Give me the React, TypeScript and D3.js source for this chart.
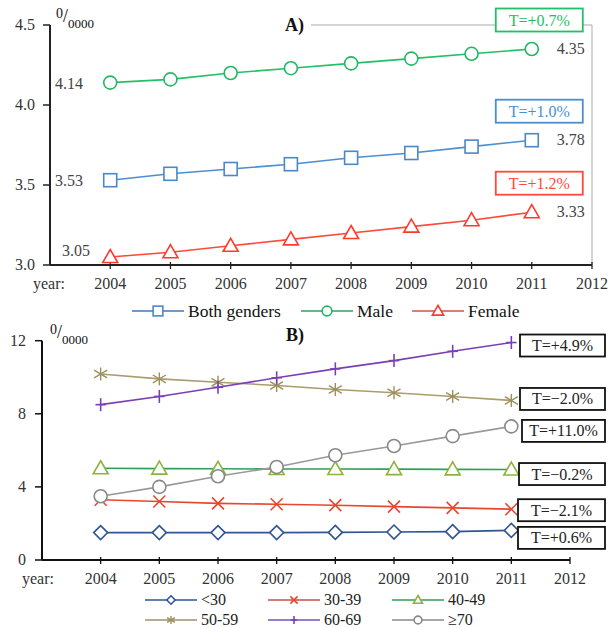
import React, { useEffect, useRef } from "react";
import * as d3 from "d3";

const years = [2004, 2005, 2006, 2007, 2008, 2009, 2010, 2011];
const axisYears = [2004, 2005, 2006, 2007, 2008, 2009, 2010, 2011, 2012];

// Panel A
const bothValues = [3.53, 3.57, 3.6, 3.63, 3.67, 3.7, 3.74, 3.78];
const maleValues = [4.14, 4.16, 4.2, 4.23, 4.26, 4.29, 4.32, 4.35];
const femaleValues = [3.05, 3.08, 3.12, 3.16, 3.2, 3.24, 3.28, 3.33];
const topNames = ["Both genders", "Male", "Female"];
const topTrends = ["T=+1.0%", "T=+0.7%", "T=+1.2%"];
const topTicks = [3.0, 3.5, 4.0, 4.5];

// Panel B
const ageNames = ["<30", "30-39", "40-49", "50-59", "60-69", "\u226570"];
const under30 = [1.5, 1.5, 1.5, 1.5, 1.51, 1.53, 1.55, 1.62];
const age30 = [3.3, 3.2, 3.1, 3.05, 3.0, 2.92, 2.85, 2.78];
const age40 = [5.02, 5.0, 4.99, 4.98, 4.98, 4.97, 4.96, 4.95];
const age50 = [10.18, 9.91, 9.73, 9.55, 9.33, 9.15, 8.95, 8.73];
const age60 = [8.5, 8.95, 9.45, 9.97, 10.46, 10.91, 11.42, 11.9];
const age70 = [3.49, 4.0, 4.58, 5.09, 5.73, 6.24, 6.78, 7.31];
const ageTrends = ["T=+0.6%", "T=\u22122.1%", "T=\u22120.2%", "T=\u22122.0%", "T=+4.9%", "T=+11.0%"];
const bottomTicks = [0, 4, 8, 12];

const FONT = "Liberation Serif, Tinos, Times New Roman, DejaVu Serif, Noto Serif, serif";

type Shape = "square" | "circle" | "triangle" | "diamond" | "x" | "star" | "plus";

function drawMarker(g: any, shape: Shape, x: number, y: number, color: string, s = 1) {
  const sw = 1.6;
  if (shape === "square") {
    g.append("rect").attr("x", x - 6.5 * s).attr("y", y - 6.5 * s).attr("width", 13 * s).attr("height", 13 * s)
      .attr("fill", "#fff").attr("stroke", color).attr("stroke-width", sw);
  } else if (shape === "circle") {
    g.append("circle").attr("cx", x).attr("cy", y).attr("r", 6.5 * s).attr("fill", "#fff").attr("stroke", color).attr("stroke-width", sw);
  } else if (shape === "triangle") {
    const p = [[0, -7.5], [7.5, 5.5], [-7.5, 5.5]].map(([a, b]) => `${x + a * s},${y + b * s}`).join(" ");
    g.append("polygon").attr("points", p).attr("fill", "#fff").attr("stroke", color).attr("stroke-width", sw);
  } else if (shape === "diamond") {
    const p = [[0, -7], [7, 0], [0, 7], [-7, 0]].map(([a, b]) => `${x + a * s},${y + b * s}`).join(" ");
    g.append("polygon").attr("points", p).attr("fill", "#fff").attr("stroke", color).attr("stroke-width", sw);
  } else if (shape === "x") {
    const r = 6 * s;
    g.append("line").attr("x1", x - r).attr("y1", y - r).attr("x2", x + r).attr("y2", y + r).attr("stroke", color).attr("stroke-width", sw);
    g.append("line").attr("x1", x - r).attr("y1", y + r).attr("x2", x + r).attr("y2", y - r).attr("stroke", color).attr("stroke-width", sw);
  } else if (shape === "star") {
    const r = 6.5 * s;
    g.append("line").attr("x1", x).attr("y1", y - r).attr("x2", x).attr("y2", y + r).attr("stroke", color).attr("stroke-width", 1.4);
    g.append("line").attr("x1", x - r).attr("y1", y - r * 0.6).attr("x2", x + r).attr("y2", y + r * 0.6).attr("stroke", color).attr("stroke-width", 1.4);
    g.append("line").attr("x1", x - r).attr("y1", y + r * 0.6).attr("x2", x + r).attr("y2", y - r * 0.6).attr("stroke", color).attr("stroke-width", 1.4);
  } else if (shape === "plus") {
    const r = 6.5 * s;
    g.append("line").attr("x1", x).attr("y1", y - r).attr("x2", x).attr("y2", y + r).attr("stroke", color).attr("stroke-width", sw);
    g.append("line").attr("x1", x - r * 0.8).attr("y1", y).attr("x2", x + r * 0.8).attr("y2", y).attr("stroke", color).attr("stroke-width", sw);
  }
}

function permilleLabel(svg: any, x: number, y: number) {
  const t = svg.append("text").attr("x", x).attr("y", y).attr("font-family", FONT).attr("fill", "#111");
  t.append("tspan").attr("font-size", 14).attr("dy", 0).text("0");
  t.append("tspan").attr("font-size", 18).attr("dy", 4).text("/");
  t.append("tspan").attr("font-size", 13).attr("dy", 6).text("0000");
}

export default function App() {
  const ref = useRef<SVGSVGElement>(null);

  useEffect(() => {
    const svg = d3.select(ref.current);
    svg.selectAll("*").remove();

    // ================= Panel A =================
    const xA = d3.scaleLinear().domain([2003, 2012]).range([50, 592]);
    const yA = d3.scaleLinear().domain([3.0, 4.5]).range([265, 25]);
    const gA = svg.append("g");

    gA.append("line").attr("x1", 311).attr("x2", xA(2012)).attr("y1", yA(4.5)).attr("y2", yA(4.5)).attr("stroke", "#aaa").attr("stroke-width", 1);
    gA.append("line").attr("x1", xA(2012)).attr("x2", xA(2012)).attr("y1", yA(4.5)).attr("y2", yA(3.0)).attr("stroke", "#aaa").attr("stroke-width", 1);

    gA.append("line").attr("x1", xA(2003)).attr("x2", xA(2003)).attr("y1", yA(4.5)).attr("y2", yA(3.0)).attr("stroke", "#222").attr("stroke-width", 2);
    gA.append("line").attr("x1", xA(2003)).attr("x2", xA(2012)).attr("y1", yA(3.0)).attr("y2", yA(3.0)).attr("stroke", "#222").attr("stroke-width", 2);
    topTicks.forEach((v) => {
      gA.append("line").attr("x1", xA(2003) - 7).attr("x2", xA(2003)).attr("y1", yA(v)).attr("y2", yA(v)).attr("stroke", "#222").attr("stroke-width", 1.5);
      gA.append("text").attr("x", xA(2003) - 15).attr("y", yA(v) + 5).attr("text-anchor", "end").attr("font-family", FONT)
        .attr("font-size", 16).attr("fill", "#333").text(v.toFixed(1));
    });
    axisYears.forEach((yr) => {
      gA.append("line").attr("x1", xA(yr)).attr("x2", xA(yr)).attr("y1", yA(3.0) - 3).attr("y2", yA(3.0) + 4).attr("stroke", "#222").attr("stroke-width", 1.3);
      gA.append("text").attr("x", xA(yr)).attr("y", 289).attr("text-anchor", "middle").attr("font-family", FONT)
        .attr("font-size", 16).attr("fill", "#333").text(String(yr));
    });
    gA.append("text").attr("x", 33).attr("y", 289).attr("font-family", FONT).attr("font-size", 16).attr("fill", "#333").text("year:");

    permilleLabel(gA, 56, 18);
    gA.append("text").attr("x", 285).attr("y", 31).attr("font-family", FONT).attr("font-size", 18).attr("font-weight", "bold").attr("fill", "#111").text("A)");

    const topSeries = [
      { name: topNames[0], values: bothValues, color: "#4a8fd0", mcolor: "#4a88c8", shape: "square" as Shape, trend: topTrends[0] },
      { name: topNames[1], values: maleValues, color: "#22bf68", mcolor: "#22b862", shape: "circle" as Shape, trend: topTrends[1] },
      { name: topNames[2], values: femaleValues, color: "#ff4a3a", mcolor: "#ff3a2a", shape: "triangle" as Shape, trend: topTrends[2] },
    ];
    const lineA = d3.line<number>().x((_, i) => xA(years[i])).y((d) => yA(d));
    const firstLabelDy = [6, 6, -1];
    const firstLabelDx = [5, 5, 12];
    topSeries.forEach((s, si) => {
      gA.append("path").attr("d", lineA(s.values)).attr("fill", "none").attr("stroke", s.color).attr("stroke-width", 1.6);
      s.values.forEach((v, i) => drawMarker(gA, s.shape, xA(years[i]), yA(v), s.mcolor));
      const first = s.values[0];
      const last = s.values[s.values.length - 1];
      gA.append("text").attr("x", xA(2003) + firstLabelDx[si]).attr("y", yA(first) + firstLabelDy[si]).attr("font-family", FONT)
        .attr("font-size", 16).attr("fill", "#444").text(first.toFixed(2));
      gA.append("text").attr("x", xA(2011) + 25).attr("y", yA(last) + 5).attr("font-family", FONT)
        .attr("font-size", 16).attr("fill", "#444").text(last.toFixed(2));
      const by = yA(last) - 29;
      gA.append("rect").attr("x", xA(2011) - 36).attr("y", by - 11.5).attr("width", 87).attr("height", 23)
        .attr("fill", "#fff").attr("stroke", s.color).attr("stroke-width", 1.8);
      gA.append("text").attr("x", xA(2011) + 7.5).attr("y", by + 5.5).attr("text-anchor", "middle").attr("font-family", FONT)
        .attr("font-size", 16).attr("fill", s.color).text(s.trend);
    });

    const legA = [
      { x: 132, lc: "#3d7ab5" },
      { x: 301, lc: "#3a9a66" },
      { x: 412, lc: "#cc5544" },
    ];
    topSeries.forEach((s, i) => {
      const lx = legA[i].x;
      const ly = 311;
      gA.append("line").attr("x1", lx).attr("x2", lx + 52).attr("y1", ly).attr("y2", ly).attr("stroke", legA[i].lc).attr("stroke-width", 1.6);
      drawMarker(gA, s.shape, lx + 26, ly, s.mcolor, 0.75);
      gA.append("text").attr("x", lx + 56).attr("y", ly + 6).attr("font-family", FONT).attr("font-size", 17.5).attr("fill", "#111").text(s.name);
    });

    // ================= Panel B =================
    const xB = d3.scaleLinear().domain([2003, 2012]).range([42, 570]);
    const yB = d3.scaleLinear().domain([0, 12]).range([560, 340.7]);
    const gB = svg.append("g");

    gB.append("line").attr("x1", xB(2003)).attr("x2", xB(2003)).attr("y1", yB(12)).attr("y2", yB(0)).attr("stroke", "#111").attr("stroke-width", 2);
    gB.append("line").attr("x1", xB(2003)).attr("x2", xB(2012)).attr("y1", yB(0)).attr("y2", yB(0)).attr("stroke", "#111").attr("stroke-width", 2);
    bottomTicks.forEach((v) => {
      gB.append("line").attr("x1", xB(2003) - 7).attr("x2", xB(2003)).attr("y1", yB(v)).attr("y2", yB(v)).attr("stroke", "#111").attr("stroke-width", 1.5);
      gB.append("text").attr("x", xB(2003) - 16).attr("y", yB(v) + 5).attr("text-anchor", "end").attr("font-family", FONT)
        .attr("font-size", 16).attr("fill", "#333").text(String(v));
    });
    axisYears.forEach((yr) => {
      gB.append("line").attr("x1", xB(yr)).attr("x2", xB(yr)).attr("y1", yB(0) - 3).attr("y2", yB(0) + 4).attr("stroke", "#111").attr("stroke-width", 1.3);
      gB.append("text").attr("x", xB(yr)).attr("y", 584).attr("text-anchor", "middle").attr("font-family", FONT)
        .attr("font-size", 16).attr("fill", "#333").text(String(yr));
    });
    gB.append("text").attr("x", 22).attr("y", 584).attr("font-family", FONT).attr("font-size", 16).attr("fill", "#333").text("year:");

    permilleLabel(gB, 50, 334);
    gB.append("text").attr("x", 286).attr("y", 341).attr("font-family", FONT).attr("font-size", 18).attr("font-weight", "bold").attr("fill", "#111").text("B)");

    const ageSeries = [
      { values: under30, color: "#2f5597", mcolor: "#2f5597", lcolor: "#2f5597", shape: "diamond" as Shape },
      { values: age30, color: "#e8462e", mcolor: "#e8462e", lcolor: "#c0504d", shape: "x" as Shape },
      { values: age40, color: "#2e9e5b", mcolor: "#8cb43c", lcolor: "#2e9e5b", shape: "triangle" as Shape },
      { values: age50, color: "#aa9d6d", mcolor: "#9c8f5a", lcolor: "#9c9070", shape: "star" as Shape },
      { values: age60, color: "#7b3fb5", mcolor: "#7b3fb5", lcolor: "#7b4fb5", shape: "plus" as Shape },
      { values: age70, color: "#999", mcolor: "#888", lcolor: "#888", shape: "circle" as Shape },
    ];
    const lineB = d3.line<number>().x((_, i) => xB(years[i])).y((d) => yB(d));
    ageSeries.forEach((s) => {
      gB.append("path").attr("d", lineB(s.values)).attr("fill", "none").attr("stroke", s.color).attr("stroke-width", 1.6);
    });
    ageSeries.forEach((s) => {
      s.values.forEach((v, i) => drawMarker(gB, s.shape, xB(years[i]), yB(v), s.mcolor));
    });

    const boxDy = [7.5, 1, 4.5, -1.5, 3, 4.5];
    const boxX = [518, 518, 519, 520, 520, 522];
    ageSeries.forEach((s, i) => {
      const cy = yB(s.values[s.values.length - 1]) + boxDy[i];
      const w = 605 - boxX[i];
      gB.append("rect").attr("x", boxX[i]).attr("y", cy - 11).attr("width", w).attr("height", 22)
        .attr("fill", "#fff").attr("stroke", "#111").attr("stroke-width", 1.8);
      gB.append("text").attr("x", boxX[i] + w / 2).attr("y", cy + 5.5).attr("text-anchor", "middle").attr("font-family", FONT)
        .attr("font-size", 16).attr("fill", "#222").text(ageTrends[i]);
    });

    const colX = [145, 268, 392];
    const rowY = [600, 620];
    ageSeries.forEach((s, i) => {
      const lx = colX[i % 3];
      const ly = rowY[Math.floor(i / 3)];
      gB.append("line").attr("x1", lx).attr("x2", lx + 52).attr("y1", ly).attr("y2", ly).attr("stroke", s.lcolor).attr("stroke-width", 1.6);
      drawMarker(gB, s.shape, lx + 26, ly, s.mcolor, 0.6);
      gB.append("text").attr("x", lx + 56).attr("y", ly + 5).attr("font-family", FONT).attr("font-size", 16).attr("fill", "#222").text(ageNames[i]);
    });
  }, []);

  return (
    <svg ref={ref} width={609} height={628} style={{ position: "absolute", left: 0, top: 0, background: "#fff" }} />
  );
}
